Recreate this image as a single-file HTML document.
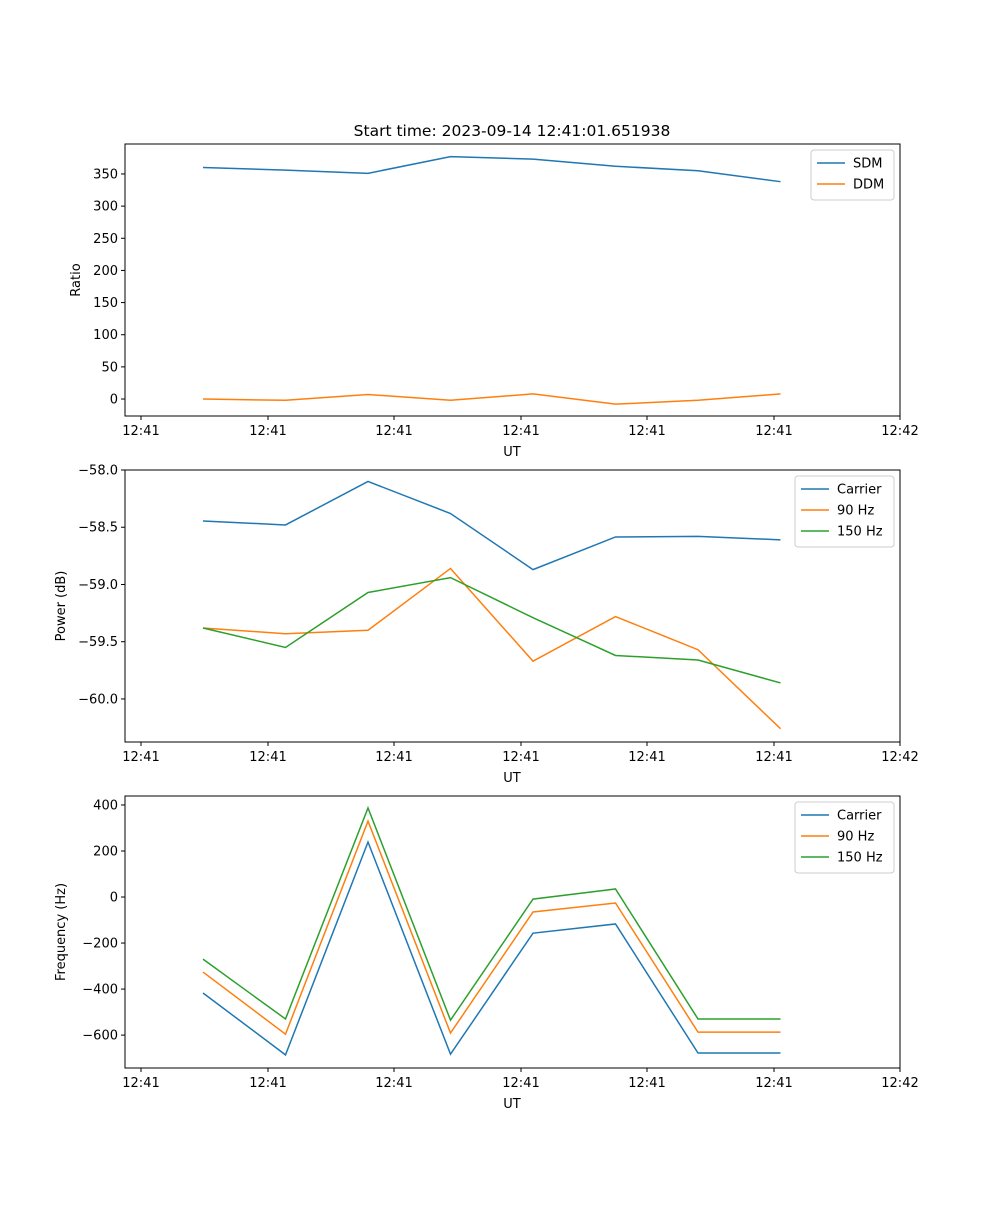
<!DOCTYPE html>
<html><head><meta charset="utf-8"><style>
body{margin:0;background:#fff}
svg text{font-family:"DejaVu Sans","Liberation Sans",sans-serif;font-size:13px;fill:#000}
</style></head><body>
<svg id="fig" width="1000" height="1200"></svg>
<script>
const xTickLabels=["12:41","12:41","12:41","12:41","12:41","12:41","12:42"];
const sdm=[360,356,351,377,373,362,355,338];
const ddm=[0,-2,7,-2,8,-8,-2,8];
const pCarrier=[-58.445,-58.48,-58.10,-58.38,-58.87,-58.585,-58.58,-58.61];
const p90=[-59.38,-59.43,-59.40,-58.86,-59.67,-59.28,-59.57,-60.26];
const p150=[-59.38,-59.55,-59.07,-58.94,-59.29,-59.62,-59.66,-59.86];
const fCarrier=[-417,-686,239,-683,-157,-117,-678,-678];
const f90=[-326,-596,330,-591,-65,-26,-587,-587];
const f150=[-270,-530,387,-535,-9,35,-530,-530];
const ticks1=[0,50,100,150,200,250,300,350];
const ticks2=[-60.0,-59.5,-59.0,-58.5,-58.0];
const ticks3=[-600,-400,-200,0,200,400];

const NS="http://www.w3.org/2000/svg";
const svg=document.getElementById('fig');
function el(t,a,p){const e=document.createElementNS(NS,t);for(const k in a)e.setAttribute(k,a[k]);(p||svg).appendChild(e);return e;}
const L=125,R=900;
const xs=i=>203+82.5*i;
const xTickPos=[141,268,394,521,647,774,900];
const C=["#1f77b4","#ff7f0e","#2ca02c"];
function panel(name,top,ymin,ymax,ticks,fmt,series,labels,ylabel,legW){
  const bot=top+272;
  const g=el('g',{});
  
  
  const ys=v=>bot-(v-ymin)/(ymax-ymin)*272;
  series.forEach((s,k)=>{
    const p=el('polyline',{points:s.map((v,i)=>xs(i)+','+ys(v)).join(' '),fill:'none',stroke:C[k],'stroke-width':1.5},g);
    
    
  });
  el('rect',{x:L,y:top,width:R-L,height:272,fill:'none',stroke:'#000','stroke-width':1},g);
  ticks.forEach(t=>{const y=ys(t);el('line',{x1:L-4,x2:L,y1:y,y2:y,stroke:'#000'},g);
    const tx=el('text',{x:L-7,y:y+4.5,'text-anchor':'end'},g);tx.textContent=fmt(t);});
  xTickPos.forEach((x,i)=>{el('line',{x1:x,x2:x,y1:bot,y2:bot+4,stroke:'#000'},g);
    const tx=el('text',{x:x,y:bot+19,'text-anchor':'middle'},g);tx.textContent=xTickLabels[i];});
  const xl=el('text',{x:512,y:bot+40,'text-anchor':'middle'},g);xl.textContent='UT';
  
  const yl=el('text',{x:0,y:0,'text-anchor':'middle',transform:`translate(${name==='ratio-panel'?80:65},${top+136}) rotate(-90)`},g);yl.textContent=ylabel;
  
  const lg=el('g',{},g);
  
  const lx=R-6-legW,ly=top+6;
  el('rect',{x:lx,y:ly,width:legW,height:8+labels.length*21,fill:'#fff',stroke:'#ccc',rx:3},lg);
  labels.forEach((lb,k)=>{const yy=ly+13+k*21;
    el('line',{x1:lx+6,x2:lx+34,y1:yy,y2:yy,stroke:C[k],'stroke-width':1.5},lg);
    const t=el('text',{x:lx+42,y:yy+4.5},lg);t.textContent=lb;});
}
const t=el('text',{x:512,y:136,'text-anchor':'middle',style:'font-size:15.5px'});t.textContent='Start time: 2023-09-14 12:41:01.651938';

panel('ratio-panel',144,-26.4,396.6,ticks1,v=>String(v),[sdm,ddm],['SDM','DDM'],'Ratio',83);
panel('power-panel',470,-60.376,-58.0,ticks2,v=>'\u2212'.repeat(1)+Math.abs(v).toFixed(1),[pCarrier,p90,p150],['Carrier','90 Hz','150 Hz'],'Power (dB)',99);
panel('frequency-panel',796,-743,439,ticks3,v=>(v<0?'\u2212':'')+Math.abs(v),[fCarrier,f90,f150],['Carrier','90 Hz','150 Hz'],'Frequency (Hz)',99);
</script>
</body></html>
